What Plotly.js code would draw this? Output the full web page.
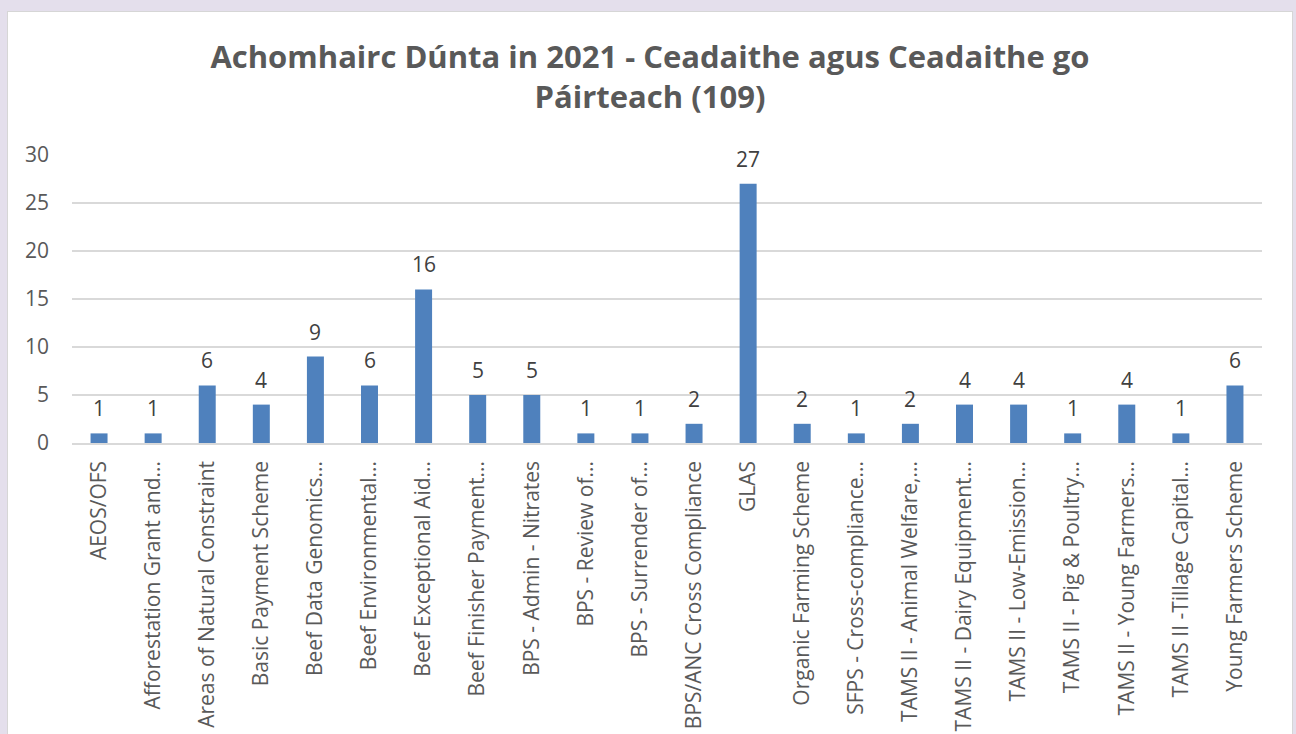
<!DOCTYPE html>
<html>
<head>
<meta charset="utf-8">
<script src="https://cdn.plot.ly/plotly-3.0.1.min.js"></script>
<style>
  html, body { margin: 0; padding: 0; background: #e4dfec; width: 1296px; height: 734px; overflow: hidden; }
  #chart { position: absolute; left: 7px; top: 11px; width: 1284px; height: 723px; background: #ffffff; border: 1px solid #d6d6d6; border-bottom: none; }
</style>
</head>
<body>
<div id="chart"></div>
<script>
const categories = [
  "AEOS/OFS",
  "Afforestation Grant and...",
  "Areas of Natural Constraint",
  "Basic Payment Scheme",
  "Beef Data Genomics...",
  "Beef Environmental...",
  "Beef Exceptional Aid...",
  "Beef Finisher Payment...",
  "BPS - Admin - Nitrates",
  "BPS - Review of...",
  "BPS - Surrender of...",
  "BPS/ANC Cross Compliance",
  "GLAS",
  "Organic Farming Scheme",
  "SFPS - Cross-compliance...",
  "TAMS II - Animal Welfare,...",
  "TAMS II - Dairy Equipment...",
  "TAMS II - Low-Emission...",
  "TAMS II - Pig & Poultry...",
  "TAMS II - Young Farmers...",
  "TAMS II -Tillage Capital...",
  "Young Farmers Scheme"
];
const values = [1, 1, 6, 4, 9, 6, 16, 5, 5, 1, 1, 2, 27, 2, 1, 2, 4, 4, 1, 4, 1, 6];
const yTicks = [0, 5, 10, 15, 20, 25, 30];
const titleText = "Achomhairc Dúnta in 2021 - Ceadaithe agus Ceadaithe go<br>Páirteach (109)";

const fontFam = '"Open Sans", "Noto Sans", sans-serif';

const trace = {
  type: 'bar',
  x: categories,
  y: values,
  marker: { color: '#4f81bd' },
  hoverinfo: 'x+y'
};

const labels = categories.map((c, i) => ({
  x: c,
  y: values[i],
  xref: 'x',
  yref: 'y',
  text: String(values[i]),
  showarrow: false,
  yanchor: 'bottom',
  yshift: 9,
  font: { family: fontFam, size: 21, color: '#404040' }
}));

const layout = {
  width: 1284,
  height: 723,
  paper_bgcolor: '#ffffff',
  plot_bgcolor: '#ffffff',
  margin: { l: 64, r: 30, t: 143, b: 292, pad: 0 },
  bargap: 0.686,
  showlegend: false,
  font: { family: fontFam, color: '#595959' },
  title: {
    text: titleText,
    font: { family: fontFam, size: 31, color: '#595959', weight: 'bold' },
    x: 0.5,
    xanchor: 'center',
    y: 0.923,
    yanchor: 'top',
    yref: 'container'
  },
  annotations: labels,
  xaxis: {
    type: 'category',
    tickangle: -90,
    tickfont: { family: fontFam, size: 21, color: '#595959' },
    showgrid: false,
    showline: true,
    linecolor: '#d9d9d9',
    linewidth: 1.5,
    ticks: '',
    automargin: false,
    ticklabelstandoff: 8
  },
  yaxis: {
    range: [0, 30],
    tickvals: yTicks,
    ticktext: yTicks.map(String),
    tickfont: { family: fontFam, size: 21, color: '#595959' },
    showgrid: true,
    gridcolor: '#d9d9d9',
    gridwidth: 1.5,
    zeroline: false,
    showline: false,
    ticks: '',
    automargin: false,
    ticklabelstandoff: 22
  }
};

Plotly.newPlot('chart', [trace], layout, { displayModeBar: false, staticPlot: true });
</script>
</body>
</html>
